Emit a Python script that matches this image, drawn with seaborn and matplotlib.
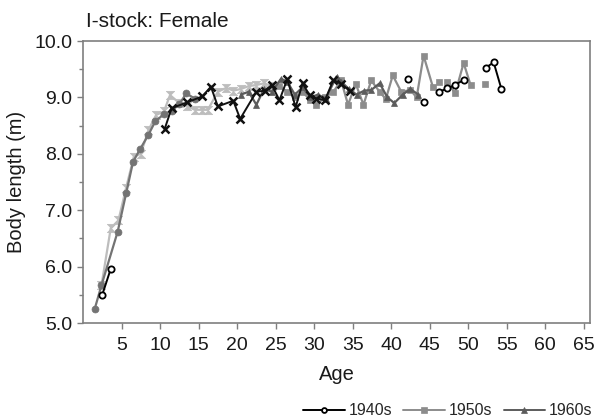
import numpy as np
import pandas as pd
import matplotlib
matplotlib.use("Agg")
import matplotlib.pyplot as plt
from matplotlib.path import Path
from matplotlib.lines import Line2D
import seaborn as sns

nan = np.nan

# ---- data (age, body length in m); NaN = gap ----
age_1940s = [2.5, 3.6, nan, 42.2, nan, 44.2, nan, 46.2, 47.3, 48.3, 49.4, nan, 52.3, 53.3, 54.3]
len_1940s = [5.50, 5.96, nan, 9.32, nan, 8.91, nan, 9.10, 9.16, 9.22, 9.31, nan, 9.53, 9.62, 9.15]

age_1950s = [25.5, 26.5, 27.5, 28.5, 29.5, 30.3, 31.4, 32.5, 33.5, 34.4, 35.4, 36.4, 37.4, 38.5,
             39.3, 40.2, 41.3, 42.5, 43.3, 44.2, 45.4, nan, 46.2, nan, 47.3, 48.3, 49.4, 50.3, nan, 52.2]
len_1950s = [9.20, 9.10, 9.00, 9.10, 8.95, 8.87, 9.00, 9.10, 9.30, 8.87, 9.24, 8.87, 9.30, 9.10,
             8.97, 9.39, 9.10, 9.13, 9.00, 9.74, 9.19, nan, 9.28, nan, 9.28, 9.07, 9.61, 9.22, nan, 9.23]

age_1960s = [20.5, 21.5, 22.5, 23.5, 24.5, 25.7, 26.5, 27.5, 28.5, 29.5, 30.5, 31.5, 32.9, 33.5,
             34.5, 35.5, 36.5, 37.4, 38.5, 39.5, 40.4, 41.5, 42.5, 43.5]
len_1960s = [9.05, 9.10, 8.87, 9.15, 9.10, 9.33, 9.28, 9.05, 9.18, 9.00, 9.05, 8.98, 9.37, 9.28,
             9.15, 9.05, 9.12, 9.13, 9.25, 9.00, 8.90, 9.05, 9.15, 9.05]

age_1970s = [10.6, 11.5, 13.5, 15.5, 16.6, 17.5, 19.5, 20.4, 22.5, 23.6, 24.5, 25.5, 26.5, 27.6,
             28.5, 29.4, 30.3, 31.4, 32.5, 33.5, 34.6]
len_1970s = [8.44, 8.81, 8.91, 9.02, 9.19, 8.84, 8.94, 8.62, 9.10, 9.12, 9.22, 8.95, 9.32, 8.83,
             9.25, 9.04, 8.98, 8.95, 9.31, 9.24, 9.12]

age_1980s = [1.5, 2.4, 4.5, 5.6, 6.5, 7.4, 8.5, 9.4, 10.5, 11.5, 12.5, 13.4, 14.5]
len_1980s = [5.24, 5.67, 6.62, 7.30, 7.86, 8.08, 8.34, 8.58, 8.70, 8.76, 8.88, 9.07, 8.98]

age_1990s = [2.4, 3.6, 4.6, 5.6, 6.6, 7.5, 8.5, 9.5, 10.5, 11.3, 12.5, 13.5, 14.5, 15.5, 16.2,
             17.5, 18.6, 19.5, 20.5, 21.5, 22.5, 23.5, 24.5]
len_1990s = [5.67, 6.68, 6.82, 7.40, 7.95, 8.00, 8.42, 8.69, 8.75, 9.04, 8.90, 8.85, 8.78, 8.78, 8.78,
             9.10, 9.17, 9.12, 9.15, 9.20, 9.22, 9.25, 9.20]

legend_labels = ["1940s", "1950s", "1960s"]
x_ticks = [5, 10, 15, 20, 25, 30, 35, 40, 45, 50, 55, 60, 65]
y_ticks = [5.0, 6.0, 7.0, 8.0, 9.0, 10.0]

# ---- style ----
sns.set_style("ticks")
plt.rcParams["font.family"] = ["Liberation Sans", "DejaVu Sans"]

hourglass = Path([(-1, 1), (1, 1), (-1, -1), (1, -1), (-1, 1)],
                 [Path.MOVETO, Path.LINETO, Path.LINETO, Path.LINETO, Path.CLOSEPOLY])

styles = {
    "1990s": dict(color="#bdbdbd", marker=hourglass, markersize=6, markerfacecolor="#bdbdbd",
                  markeredgecolor="#bdbdbd", markeredgewidth=0.5, linewidth=1.6),
    "1980s": dict(color="#737373", marker="o", markersize=5, markerfacecolor="#737373",
                  markeredgecolor="#737373", markeredgewidth=0.5, linewidth=1.6),
    "1950s": dict(color="#8c8c8c", marker="s", markersize=5, markerfacecolor="#8c8c8c",
                  markeredgecolor="#8c8c8c", markeredgewidth=0.5, linewidth=1.6),
    "1960s": dict(color="#5c5c5c", marker="^", markersize=5, markerfacecolor="#5c5c5c",
                  markeredgecolor="#5c5c5c", markeredgewidth=0.5, linewidth=1.6),
    "1970s": dict(color="#111111", marker="x", markersize=6, markerfacecolor="#111111",
                  markeredgecolor="#111111", markeredgewidth=1.8, linewidth=1.4),
    "1940s": dict(color="#000000", marker="o", markersize=4.5, markerfacecolor="white",
                  markeredgecolor="#000000", markeredgewidth=1.3, linewidth=1.4),
}

series = {
    "1990s": (age_1990s, len_1990s),
    "1980s": (age_1980s, len_1980s),
    "1950s": (age_1950s, len_1950s),
    "1960s": (age_1960s, len_1960s),
    "1970s": (age_1970s, len_1970s),
    "1940s": (age_1940s, len_1940s),
}

fig = plt.figure(figsize=(5.99, 4.18), dpi=100)
ax = fig.add_axes([83 / 599, 1 - 323 / 418, (590 - 83) / 599, (323 - 41) / 418])

for name, (xs, ys) in series.items():
    df = pd.DataFrame({"age": xs, "len": ys})
    df["seg"] = df["len"].isna().cumsum()
    df = df.dropna()
    for _, seg in df.groupby("seg"):
        sns.lineplot(data=seg, x="age", y="len", ax=ax, estimator=None, sort=False,
                     legend=False, **styles[name])

ax.set_xlim(0, 65.8)
ax.set_ylim(5.0, 10.0)
ax.set_xticks(x_ticks)
ax.set_yticks(y_ticks)
ax.set_yticklabels([f"{v:.1f}" for v in y_ticks])
ax.set_yticks(np.arange(5.5, 10.0, 1.0), minor=True)
ax.tick_params(axis="both", which="major", labelsize=14, colors="#7f7f7f", labelcolor="#1a1a1a",
               length=4, width=1)
ax.tick_params(axis="y", which="minor", length=3, width=1, colors="#7f7f7f")
ax.tick_params(axis="x", pad=6)

for sp in ax.spines.values():
    sp.set_visible(True)
    sp.set_color("#7f7f7f")
    sp.set_linewidth(1.2)

ax.set_xlabel("Age", fontsize=14.5, color="#1a1a1a", labelpad=8)
ax.set_ylabel("Body length (m)", fontsize=14.5, color="#1a1a1a", labelpad=6)

fig.text(86 / 599, 1 - 27 / 418, "I-stock: Female", fontsize=15, color="#1a1a1a",
         ha="left", va="baseline")

handles = []
for name in legend_labels:
    st = styles[name]
    handles.append(Line2D([], [], color=st["color"], linewidth=1.4, marker=st["marker"],
                          markersize=4 if name != "1940s" else 3.5,
                          markerfacecolor=st["markerfacecolor"],
                          markeredgecolor=st["markeredgecolor"],
                          markeredgewidth=st["markeredgewidth"]))
fig.legend(handles, legend_labels, loc="center left", bbox_to_anchor=(303 / 599, 0.0175),
           ncol=3, frameon=False, fontsize=11.5, handlelength=2.6, handletextpad=0.25,
           columnspacing=0.7, borderpad=0, borderaxespad=0)

fig.savefig("out.png", dpi=100)
